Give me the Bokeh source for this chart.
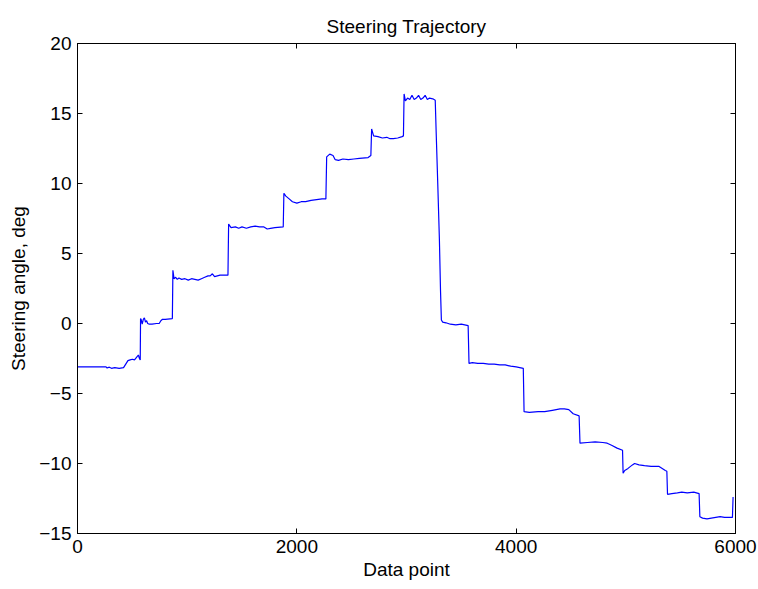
from bokeh.plotting import figure
from bokeh.models import Range1d, FixedTicker, LinearAxis
from bokeh.embed import file_html
from bokeh.resources import INLINE

# Steering angle (deg) versus sample index, read as breakpoints of the trace
sample_index = [
    0, 260, 270, 290, 310, 340, 380, 420,
    440, 460, 480, 500, 520, 540, 555, 565, 572,
    575, 580, 590, 600, 610, 620, 630, 640, 655, 680, 720, 745, 760, 775, 800, 865,
    870, 880, 895, 910, 925, 950, 980, 1010, 1040, 1070, 1100, 1130, 1160, 1190, 1210, 1230, 1250, 1300, 1372,
    1378, 1400, 1440, 1470, 1500, 1540, 1580, 1620, 1660, 1700, 1730, 1760, 1800, 1876,
    1882, 1900, 1930, 1960, 2000, 2040, 2080, 2130, 2180, 2230, 2265,
    2272, 2300, 2330, 2350, 2380, 2420, 2470, 2520, 2570, 2650, 2675,
    2682, 2700, 2740, 2780, 2820, 2850, 2880, 2920, 2960, 2972,
    2978, 2990, 3010, 3030, 3050, 3070, 3090, 3110, 3130, 3150, 3170, 3190, 3210, 3240, 3262,
    3270, 3285, 3300, 3310, 3318, 3330, 3360, 3400, 3450, 3500, 3562,
    3570, 3600, 3650, 3700, 3750, 3800, 3850, 3900, 3950, 4000, 4065,
    4072, 4120, 4200, 4260, 4330, 4400, 4440, 4480, 4520, 4574,
    4582, 4650, 4720, 4790, 4830, 4870, 4920, 4970,
    4975, 4990, 5020, 5060, 5080, 5120, 5170, 5230, 5300, 5360, 5374,
    5380, 5420, 5470, 5510, 5560, 5620, 5668,
    5675, 5700, 5740, 5780, 5820, 5860, 5900, 5950, 5972, 5978,
]
steering_deg = [
    -3.1, -3.1, -3.18, -3.12, -3.2, -3.15, -3.2, -3.15,
    -2.9, -2.65, -2.6, -2.55, -2.6, -2.4, -2.25, -2.5, -2.6,
    0.35, 0.3, -0.05, 0.3, 0.4, 0.1, 0.2, 0.0, -0.05, -0.05, 0.0, 0.0, 0.2, 0.3, 0.3, 0.35,
    3.8, 3.2, 3.3, 3.15, 3.25, 3.15, 3.2, 3.1, 3.2, 3.15, 3.1, 3.2, 3.3, 3.4, 3.4, 3.55, 3.35, 3.45, 3.45,
    7.1, 6.85, 6.9, 6.8, 6.9, 6.8, 6.9, 6.95, 6.9, 6.9, 6.75, 6.8, 6.85, 6.9,
    9.3, 9.1, 8.9, 8.7, 8.6, 8.7, 8.7, 8.8, 8.85, 8.9, 8.9,
    11.9, 12.1, 12.0, 11.7, 11.65, 11.75, 11.7, 11.75, 11.8, 11.85, 12.0,
    13.9, 13.4, 13.35, 13.25, 13.3, 13.2, 13.2, 13.25, 13.35, 13.4,
    16.4, 15.9, 16.1, 16.0, 16.3, 16.0, 16.1, 16.3, 16.0, 16.1, 16.3, 16.0, 16.1, 16.05, 15.95,
    13.8, 10.0, 6.0, 2.4, 0.25, 0.1, 0.05, -0.05, -0.1, -0.05, -0.15,
    -2.85, -2.8, -2.85, -2.85, -2.9, -2.9, -2.95, -2.95, -3.05, -3.1, -3.2,
    -6.3, -6.35, -6.3, -6.3, -6.2, -6.1, -6.1, -6.15, -6.45, -6.6,
    -8.55, -8.5, -8.45, -8.5, -8.55, -8.7, -8.9, -9.05,
    -10.7, -10.5, -10.35, -10.1, -10.0, -10.1, -10.15, -10.2, -10.2, -10.5, -10.55,
    -12.2, -12.15, -12.1, -12.05, -12.1, -12.05, -12.15,
    -13.8, -13.9, -13.95, -13.9, -13.85, -13.8, -13.85, -13.85, -13.85, -12.4,
]

x_ticks = [0, 2000, 4000, 6000]
y_ticks = [-15, -10, -5, 0, 5, 10, 15, 20]

FONT = "Liberation Sans"
FS = "19px"

p = figure(
    width=758, height=589,
    x_range=Range1d(0, 6000), y_range=Range1d(-15, 20),
    output_backend="svg", toolbar_location=None,
    min_border_left=77, min_border_right=23, min_border_top=43, min_border_bottom=56,
    title="Steering Trajectory",
)
p.background_fill_color = "white"
p.border_fill_color = "white"
p.outline_line_color = "black"
p.outline_line_width = 1
p.grid.visible = False

p.title.align = "center"
p.title.vertical_align = "top"
p.title.text_font = FONT
p.title.text_font_size = FS
p.title.text_font_style = "normal"
p.title.text_color = "black"

p.line(sample_index, steering_deg, line_color="#0000ff", line_width=1.2)


def style_axis(ax, ticks):
    ax.ticker = FixedTicker(ticks=ticks)
    ax.minor_tick_line_color = None
    ax.major_tick_in = 5
    ax.major_tick_out = 0
    ax.axis_line_color = "black"
    ax.major_tick_line_color = "black"
    ax.major_label_text_font = FONT
    ax.major_label_text_font_size = FS
    ax.major_label_text_color = "black"
    ax.axis_label_text_font = FONT
    ax.axis_label_text_font_size = FS
    ax.axis_label_text_font_style = "normal"
    ax.axis_label_text_color = "black"


style_axis(p.xaxis[0], x_ticks)
style_axis(p.yaxis[0], y_ticks)
p.xaxis[0].axis_label = "Data point"
p.yaxis[0].axis_label = "Steering angle, deg"
p.xaxis[0].major_label_standoff = 6
p.yaxis[0].major_label_standoff = 6
p.xaxis[0].axis_label_standoff = 3
p.yaxis[0].axis_label_standoff = 7

# Ticks along the top and right edges of the box, with blank labels
top_axis = LinearAxis()
right_axis = LinearAxis()
for ax, ticks in ((top_axis, x_ticks), (right_axis, y_ticks)):
    style_axis(ax, ticks)
    ax.major_label_overrides = {t: "" for t in ticks}
    ax.major_label_standoff = 0
p.add_layout(top_axis, "above")
p.add_layout(right_axis, "right")

open("out.html", "w").write(file_html(p, INLINE))
